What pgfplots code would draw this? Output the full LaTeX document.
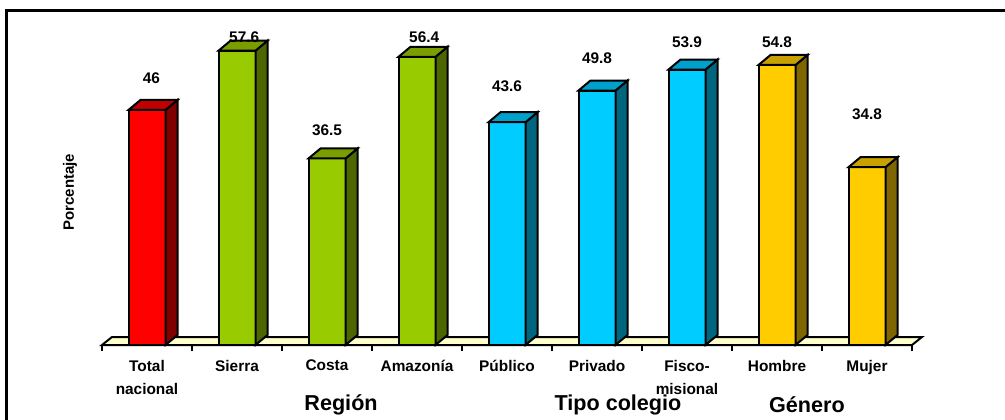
\documentclass[border=0pt]{standalone}
\usepackage{pgfplots}
\pgfplotsset{compat=1.18}
\usepackage{pgfplotstable}
\usepackage{fontspec}
\setmainfont{Liberation Sans}

\definecolor{rojoF}{HTML}{FF0000}\definecolor{rojoS}{HTML}{800000}\definecolor{rojoT}{HTML}{C00000}
\definecolor{verdeF}{HTML}{99CC00}\definecolor{verdeS}{HTML}{4D6600}\definecolor{verdeT}{HTML}{7A9E00}
\definecolor{celesteF}{HTML}{00CCFF}\definecolor{celesteS}{HTML}{006680}\definecolor{celesteT}{HTML}{00A0CC}
\definecolor{oroF}{HTML}{FFCC00}\definecolor{oroS}{HTML}{806600}\definecolor{oroT}{HTML}{C8A000}
\definecolor{piso}{HTML}{FFFFCC}

% one unit on the y axis
\newcommand\yunit{2.555pt}

% 3D column drawn from the value \barval, anchored at the top centre of its front face
\tikzset{cara/.style={draw=black, line width=1pt, line join=miter}}
\newcommand\barmark[4]{%
  \pgfdeclareplotmark{#1}{%
    \pgfmathsetlengthmacro\barH{\barval*\yunit}%
    \filldraw[cara, fill=#2] (-9.25pt,-\barH) rectangle (9.25pt,0pt);
    \filldraw[cara, fill=#3] (9.25pt,-\barH) -- ++(6pt,5pt) -- (15.25pt,5pt) -- (9.25pt,0pt) -- cycle;
    \filldraw[cara, fill=#4] (-9.25pt,0pt) -- (-3.25pt,5pt) -- (15.25pt,5pt) -- (9.25pt,0pt) -- cycle;
  }}
\barmark{colRojo}{rojoF}{rojoS}{rojoT}
\barmark{colVerde}{verdeF}{verdeS}{verdeT}
\barmark{colCeleste}{celesteF}{celesteS}{celesteT}
\barmark{colOro}{oroF}{oroS}{oroT}

% x: position, v: percentage, lx/ly: where its value label sits
\pgfplotstableread{
x v  lx   ly
0 46 0.05 52.2
}\nacional
\pgfplotstableread{
x v    lx   ly
1 57.6 0.08 60.3
2 36.5 0.00 42.1
3 56.4 0.08 60.3
}\region
\pgfplotstableread{
x v    lx   ly
4 43.6 0.00 50.7
5 49.8 0.00 56.2
6 53.9 0.00 59.3
}\colegio
\pgfplotstableread{
x v    lx   ly
7 54.8 0.00 59.3
8 34.8 0.00 45.2
}\genero

\pgfplotsset{
  columnas/.style={scatter, only marks, mark=#1,
    visualization depends on={rawy \as \barval}},
  valores/.style={only marks, mark=none, nodes near coords,
    point meta=explicit symbolic,
    nodes near coords style={anchor=center, inner sep=0pt,
      font=\fontsize{7.7}{9}\selectfont\bfseries}},
}

\begin{document}
\begin{tikzpicture}
\begin{axis}[
  x=45pt, y=\yunit,
  xmin=-0.5, xmax=8.5, ymin=0, ymax=65,
  clip=false,
  axis x line*=bottom, axis y line=none,
  x axis line style={line width=1pt},
  xtick={0,...,8},
  xticklabels={Total\\nacional, Sierra, Costa, Amazonía, Público, Privado, Fisco-\\misional, Hombre, Mujer},
  xticklabel style={align=center, font=\fontsize{7.7}{11.5}\selectfont\bfseries, yshift=-4pt},
  major tick length=0pt,
  minor xtick={-0.5,0.5,...,8.5},
  minor tick length=3pt,
  tick align=outside,
  minor tick style={line width=0.8pt, black},
]
  % floor
  \filldraw[fill=piso, draw=black, line width=1pt]
    (axis cs:-0.5,0) -- (axis cs:8.5,0) -- ++(5pt,4pt)
    -- ([xshift=5pt,yshift=4pt]axis cs:-0.5,0) -- cycle;
  \coordinate (O) at (axis cs:-0.5,0);

  \addplot[columnas=colRojo]    table[x=x, y=v] {\nacional};
  \addplot[columnas=colVerde]   table[x=x, y=v] {\region};
  \addplot[columnas=colCeleste] table[x=x, y=v] {\colegio};
  \addplot[columnas=colOro]     table[x=x, y=v] {\genero};

  \addplot[valores] table[x expr=\thisrow{x}+\thisrow{lx}, y=ly, meta=v] {\nacional};
  \addplot[valores] table[x expr=\thisrow{x}+\thisrow{lx}, y=ly, meta=v] {\region};
  \addplot[valores] table[x expr=\thisrow{x}+\thisrow{lx}, y=ly, meta=v] {\colegio};
  \addplot[valores] table[x expr=\thisrow{x}+\thisrow{lx}, y=ly, meta=v] {\genero};

  \node[rotate=90, font=\fontsize{7.5}{9}\selectfont\bfseries]
    at ([xshift=-16pt]axis cs:-0.5,29.9) {Porcentaje};
  \node[font=\fontsize{10.8}{13}\selectfont\bfseries] at (axis cs:2.156,-11.7) {Región};
  \node[font=\fontsize{10.8}{13}\selectfont\bfseries] at (axis cs:5.233,-11.7) {Tipo colegio};
  \node[font=\fontsize{10.8}{13}\selectfont\bfseries] at (axis cs:7.333,-11.7) {Género};
\end{axis}
\pgfresetboundingbox
\begin{scope}[shift={(O)}]
  \useasboundingbox (-51pt,-37pt) rectangle (451.5pt,172.5pt);
  \draw[line width=1.5pt, line join=miter] (-47.75pt,-45pt) -- (-47.75pt,167.25pt) -- (460pt,167.25pt);
\end{scope}
\end{tikzpicture}
\end{document}
